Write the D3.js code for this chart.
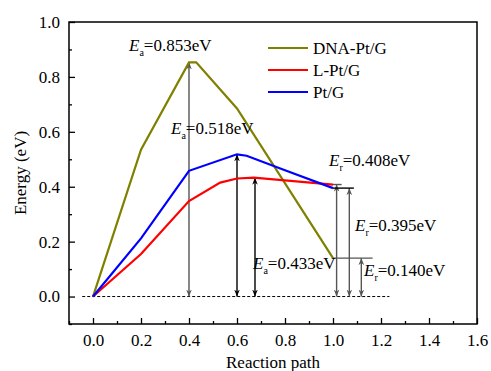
<!DOCTYPE html>
<html>
<head>
<meta charset="utf-8">
<script src="https://cdn.jsdelivr.net/npm/d3@7"></script>
<style>
  body { margin: 0; background: #fff; }
</style>
</head>
<body>
<div id="chart"></div>
<script>
// series (reaction path x, energy y)
const dnaX = [0, 0.2, 0.4, 0.43, 0.6, 1.0];
const dnaY = [0, 0.535, 0.853, 0.853, 0.685, 0.14];
const lX = [0, 0.2, 0.4, 0.53, 0.6, 0.67, 1.0];
const lY = [0, 0.155, 0.348, 0.415, 0.43, 0.433, 0.408];
const ptX = [0, 0.2, 0.4, 0.6, 0.64, 0.8, 1.0];
const ptY = [0, 0.212, 0.458, 0.518, 0.513, 0.46, 0.395];

const seriesNames = ['DNA-Pt/G', 'L-Pt/G', 'Pt/G'];
const seriesColors = ['#808000', '#ff0000', '#0000ff'];

const xTicks = [0.0, 0.2, 0.4, 0.6, 0.8, 1.0, 1.2, 1.4, 1.6];
const yTicks = [0.0, 0.2, 0.4, 0.6, 0.8, 1.0];

// energy barriers: x position, value
const arrowX = [0.4, 0.6, 0.675, 1.015, 1.068, 1.118];
const arrowV = [0.853, 0.518, 0.433, 0.408, 0.395, 0.14];
const arrowColor = ['#555', '#000', '#000', '#555', '#555', '#555'];

const FONT = "'Liberation Serif', 'Times New Roman', Times, serif";
const width = 491;
const height = 371;
const margin = { top: 22, right: 14, bottom: 47, left: 69 };

const svg = d3.select('#chart')
  .append('svg')
  .attr('width', width)
  .attr('height', height)
  .style('font-family', FONT);

const x = d3.scaleLinear().domain([-0.1, 1.6]).range([margin.left, width - margin.right]);
const y = d3.scaleLinear().domain([-0.1, 1.0]).range([height - margin.bottom, margin.top]);

// arrow head markers
const defs = svg.append('defs');
['#555', '#000'].forEach((c, i) => {
  defs.append('marker')
    .attr('id', 'ah' + i)
    .attr('viewBox', '0 0 10 10')
    .attr('refX', 10).attr('refY', 5)
    .attr('markerWidth', 7).attr('markerHeight', 7)
    .attr('markerUnits', 'userSpaceOnUse')
    .attr('orient', 'auto-start-reverse')
    .append('path')
    .attr('d', 'M0,1 L10,5 L0,9 L3,5 Z')
    .attr('fill', c);
});

// frame
svg.append('rect')
  .attr('x', x(-0.1)).attr('y', y(1.0))
  .attr('width', x(1.6) - x(-0.1)).attr('height', y(-0.1) - y(1.0))
  .attr('fill', 'none').attr('stroke', '#000').attr('stroke-width', 1.5);

// axes with inward ticks
const xAxis = svg.append('g')
  .attr('transform', `translate(0,${y(-0.1)})`)
  .call(d3.axisBottom(x).tickValues(xTicks).tickFormat(d3.format('.1f')).tickSizeInner(-6).tickSizeOuter(0).tickPadding(10));
xAxis.select('.domain').remove();
svg.append('g')
  .attr('transform', `translate(0,${y(-0.1)})`)
  .call(d3.axisBottom(x).tickValues(d3.range(-0.1, 1.6, 0.2)).tickFormat('').tickSizeInner(-3).tickSizeOuter(0))
  .select('.domain').remove();

const yAxis = svg.append('g')
  .attr('transform', `translate(${x(-0.1)},0)`)
  .call(d3.axisLeft(y).tickValues(yTicks).tickFormat(d3.format('.1f')).tickSizeInner(-6).tickSizeOuter(0).tickPadding(9));
yAxis.select('.domain').remove();
svg.append('g')
  .attr('transform', `translate(${x(-0.1)},0)`)
  .call(d3.axisLeft(y).tickValues(d3.range(-0.1, 1.0, 0.2)).tickFormat('').tickSizeInner(-3).tickSizeOuter(0))
  .select('.domain').remove();
svg.selectAll('.tick line').attr('stroke-width', 1.3);
svg.selectAll('.tick text')
  .attr('font-size', null).attr('font-family', null)
  .style('font-family', FONT).style('font-size', '17px').attr('fill', '#000');

// axis titles
svg.append('text')
  .attr('x', (x(-0.1) + x(1.6)) / 2)
  .attr('y', 368)
  .attr('text-anchor', 'middle')
  .style('font-size', '17px')
  .text('Reaction path');
svg.append('text')
  .attr('transform', `translate(26,${(y(-0.1) + y(1.0)) / 2}) rotate(-90)`)
  .attr('text-anchor', 'middle')
  .style('font-size', '17px')
  .text('Energy (eV)');

// zero reference line
svg.append('line')
  .attr('x1', x(-0.045)).attr('x2', x(1.235))
  .attr('y1', y(0)).attr('y2', y(0))
  .attr('stroke', '#000').attr('stroke-width', 1)
  .attr('stroke-dasharray', '3,2');

// arrows
arrowX.forEach((ax, i) => {
  const m = `url(#ah${arrowColor[i] === '#000' ? 1 : 0})`;
  svg.append('line')
    .attr('x1', x(ax)).attr('x2', x(ax))
    .attr('y1', y(0)).attr('y2', y(arrowV[i]))
    .attr('stroke', arrowColor[i]).attr('stroke-width', 1.4)
    .attr('marker-start', m)
    .attr('marker-end', m);
});

// horizontal caps for the E_r arrows
const capFrom = [1.0, 1.0, 1.0];
const capTo = [1.036, 1.087, 1.165];
const capV = [0.408, 0.395, 0.14];
capV.forEach((v, i) => {
  svg.append('line')
    .attr('x1', x(capFrom[i])).attr('x2', x(capTo[i]))
    .attr('y1', y(v)).attr('y2', y(v))
    .attr('stroke', i === 1 ? '#000' : '#555').attr('stroke-width', 1.4);
});

// series lines
const line = d3.line().x(d => x(d[0])).y(d => y(d[1]));
const series = [
  d3.zip(dnaX, dnaY),
  d3.zip(lX, lY),
  d3.zip(ptX, ptY)
];
series.forEach((s, i) => {
  svg.append('path')
    .datum(s)
    .attr('d', line)
    .attr('fill', 'none')
    .attr('stroke', seriesColors[i])
    .attr('stroke-width', 2.2);
});

// legend
seriesNames.forEach((name, i) => {
  const ly = 48 + i * 22;
  svg.append('line')
    .attr('x1', 268).attr('x2', 308)
    .attr('y1', ly).attr('y2', ly)
    .attr('stroke', seriesColors[i]).attr('stroke-width', 2.2);
  svg.append('text')
    .attr('x', 313).attr('y', ly + 6)
    .style('font-size', '17px')
    .text(name);
});

// energy labels
const labelSub = ['a', 'a', 'a', 'r', 'r', 'r'];
const labelPos = [[129, 51], [171, 134], [253, 269], [329, 166], [355, 231], [364, 276]];
arrowV.forEach((v, i) => {
  const t = svg.append('text')
    .attr('x', labelPos[i][0]).attr('y', labelPos[i][1])
    .style('font-size', '17px');
  t.append('tspan').style('font-style', 'italic').text('E');
  t.append('tspan').style('font-size', '10px').attr('dy', 5).text(labelSub[i]);
  t.append('tspan').attr('dy', -5).text('=' + d3.format('.3f')(v) + 'eV');
});
</script>
</body>
</html>
